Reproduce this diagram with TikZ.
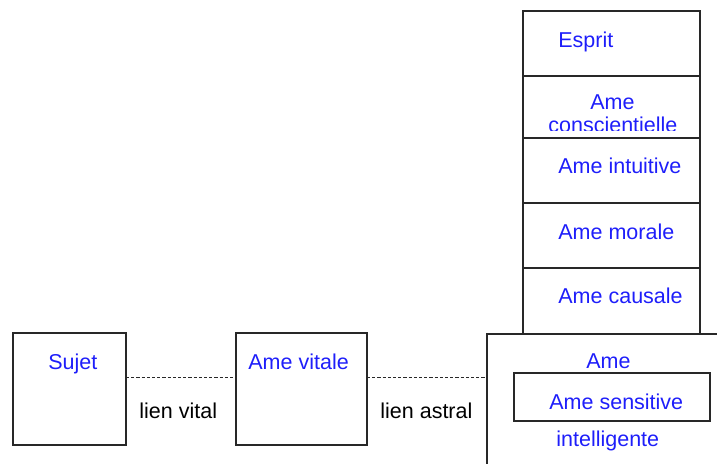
\documentclass[tikz,border=0pt]{standalone}
\usepackage{fontspec}
\setmainfont{Liberation Sans}
\definecolor{txtblue}{RGB}{30,30,250}
\definecolor{linegray}{RGB}{40,40,40}
\begin{document}
\begin{tikzpicture}[x=0.5pt,y=-0.5pt,
  box/.style={draw=linegray,line width=0.65pt,rectangle,inner sep=0pt,outer sep=0pt},
  lbl/.style={inner sep=0pt,anchor=base west,font=\fontsize{10.75pt}{12pt}\selectfont},
  bl/.style={lbl,text=txtblue},
  bk/.style={lbl,text=black},
  link/.style={draw=linegray,line width=0.5pt,dash pattern=on 1.6pt off 1pt}]
\useasboundingbox (0,0) rectangle (717,464);
\clip (0,0) rectangle (717,464);
% left boxes
\node[box,minimum width=56.5pt,minimum height=56pt] (sujet) at (69.5,389) {};
\node[box,minimum width=65.5pt,minimum height=56pt] (vitale) at (301.5,389) {};
% big box (open, clipped by page)
\node[box,minimum width=130pt,minimum height=80pt,anchor=north west] (big) at (487,334) {};
% inner box
\node[box,minimum width=98pt,minimum height=24pt] (sens) at (612,397) {};
% stack
\node[box,minimum width=88.5pt,minimum height=32.5pt,anchor=north west] (c1) at (523,11) {};
\node[box,minimum width=88.5pt,minimum height=31pt,anchor=north west] (c2) at (523,76) {};
\node[box,minimum width=88.5pt,minimum height=32.5pt,anchor=north west] (c3) at (523,138) {};
\node[box,minimum width=88.5pt,minimum height=32.5pt,anchor=north west] (c4) at (523,203) {};
\node[box,minimum width=88.5pt,minimum height=33pt,anchor=north west] (c5) at (523,268) {};
% connectors
\coordinate (y1) at (0,378);
\draw[link] (sujet.east |- y1) -- (vitale.west |- y1);
\draw[link] (vitale.east |- y1) -- (big.west |- y1);
% texts
\node[bl] (tsujet) at (48,370) {Sujet};
\node[bl] (tvitale) at (248,370) {Ame vitale};
\node[bk] (tlv) at (139,418) {lien vital};
\node[bk] (tla) at (380,418) {lien astral};
\node[bl] (tesprit) at (558,48) {Esprit};
\node[bl] (tame1) at (590,110) {Ame};
\begin{scope}
\clip (523,76) rectangle (700,130.5);
\node[bl] (tconsc) at (548,133) {conscientielle};
\end{scope}
\node[bl] (tintu) at (558,174) {Ame intuitive};
\node[bl] (tmor) at (558,240) {Ame morale};
\node[bl] (tcaus) at (558,304) {Ame causale};
\node[bl] (tame2) at (586,369) {Ame};
\node[bl] (tsens) at (549,409) {Ame sensitive};
\node[bl] (tint) at (556,446) {intelligente};
\end{tikzpicture}
\end{document}
